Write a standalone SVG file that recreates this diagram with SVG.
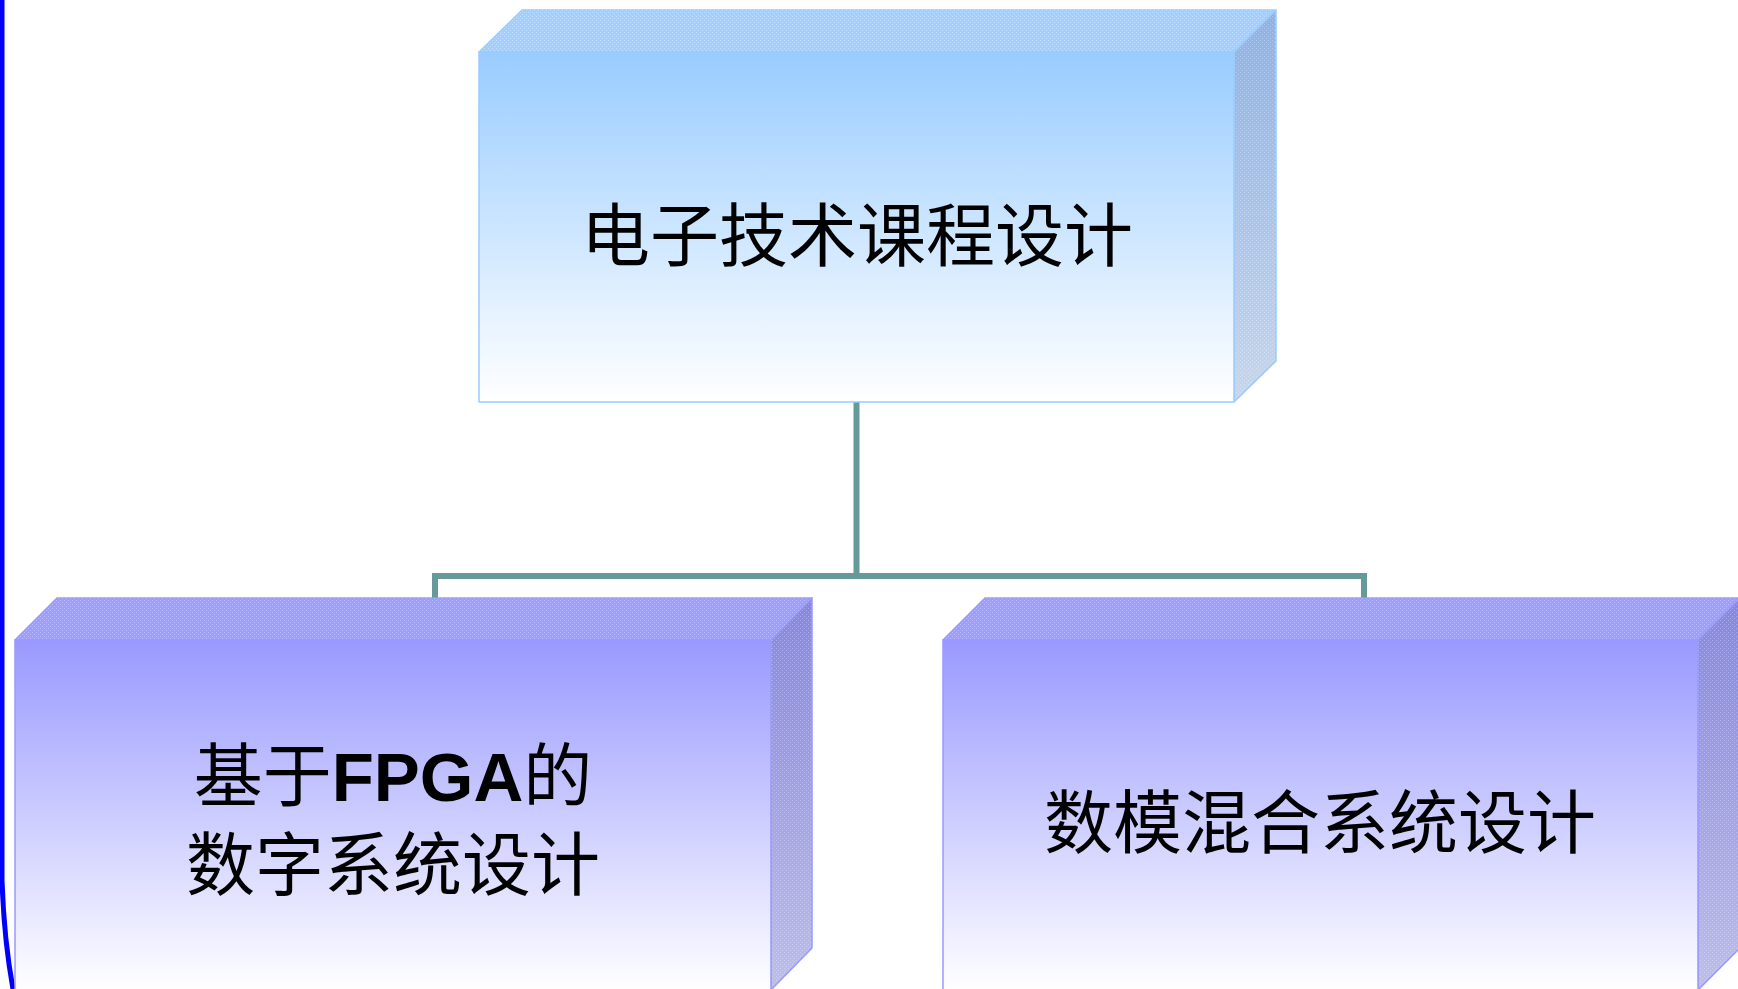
<svg xmlns="http://www.w3.org/2000/svg" width="1738" height="989" viewBox="0 0 1738 989">
  <defs>
    <linearGradient id="gBlueFront" x1="0" y1="0" x2="0" y2="1">
      <stop offset="0" stop-color="#99CCFF"/>
      <stop offset="1" stop-color="#FFFFFF"/>
    </linearGradient>
    <linearGradient id="gBlueSide" x1="0" y1="0" x2="0" y2="1">
      <stop offset="0" stop-color="#8CB2E6"/>
      <stop offset="1" stop-color="#C6D6EE"/>
    </linearGradient>
    <linearGradient id="gPurpFront" x1="0" y1="0" x2="0" y2="1">
      <stop offset="0" stop-color="#9999FF"/>
      <stop offset="1" stop-color="#FFFFFF"/>
    </linearGradient>
    <linearGradient id="gPurpSide" x1="0" y1="0" x2="0" y2="1">
      <stop offset="0" stop-color="#8686E2"/>
      <stop offset="1" stop-color="#BDBDEC"/>
    </linearGradient>
    <pattern id="dots" width="4" height="4" patternUnits="userSpaceOnUse">
      <rect x="0" y="0" width="1" height="1" fill="#FFFFFF" fill-opacity="0.3"/>
      <rect x="2" y="2" width="1" height="1" fill="#FFFFFF" fill-opacity="0.3"/>
    </pattern>
  </defs>
  <style>
    .blue { stroke: #99CCFF; stroke-width: 1.5; stroke-linejoin: round; }
    .purp { stroke: #9999FF; stroke-width: 1.5; stroke-linejoin: round; }
    .label { font-family: "Noto Sans CJK SC", "Liberation Sans", sans-serif; font-size: 69px; fill: #000000; text-anchor: middle; }
    .latin { font-family: "Liberation Sans", Arial, sans-serif; font-weight: bold; }
    .conn { stroke: #669999; stroke-width: 6; fill: none; }
  </style>
  <rect x="0" y="0" width="1738" height="989" fill="#FFFFFF"/>
  <path d="M2,0 L2,880 Q4,940 13,989" stroke="#0000FF" stroke-width="5" fill="none"/>

  <g id="connectors">
    <path class="conn" d="M856.5,402 L856.5,576"/>
    <path class="conn" d="M435,598 L435,576 L1364,576 L1364,598"/>
  </g>

  <g id="node-top">
    <polygon class="blue" points="479,52 522,10 1276,10 1234,52" fill="#A3CEFF"/>
    <polygon points="479,52 522,10 1276,10 1234,52" fill="url(#dots)"/>
    <polygon class="blue" points="1234,52 1276,10 1276,361 1234,402" fill="url(#gBlueSide)"/>
    <polygon points="1234,52 1276,10 1276,361 1234,402" fill="url(#dots)"/>
    <rect class="blue" x="479" y="52" width="755" height="350" fill="url(#gBlueFront)"/>
    <text class="label" x="857" y="261">电子技术课程设计</text>
  </g>

  <g id="node-left">
    <polygon class="purp" points="15,640 57,598 812,598 771,640" fill="#9E9EFF"/>
    <polygon points="15,640 57,598 812,598 771,640" fill="url(#dots)"/>
    <polygon class="purp" points="771,640 812,598 812,948 771,990" fill="url(#gPurpSide)"/>
    <polygon points="771,640 812,598 812,948 771,990" fill="url(#dots)"/>
    <rect class="purp" x="15" y="640" width="756" height="352" fill="url(#gPurpFront)"/>
    <text class="label" x="393" y="801">基于<tspan class="latin">FPGA</tspan>的</text>
    <text class="label" x="393" y="890">数字系统设计</text>
  </g>

  <g id="node-right">
    <polygon class="purp" points="943,640 985,598 1740,598 1698,640" fill="#9E9EFF"/>
    <polygon points="943,640 985,598 1740,598 1698,640" fill="url(#dots)"/>
    <polygon class="purp" points="1698,640 1740,598 1740,948 1698,990" fill="url(#gPurpSide)"/>
    <polygon points="1698,640 1740,598 1740,948 1698,990" fill="url(#dots)"/>
    <rect class="purp" x="943" y="640" width="755" height="352" fill="url(#gPurpFront)"/>
    <text class="label" x="1320" y="848">数模混合系统设计</text>
  </g>
</svg>
